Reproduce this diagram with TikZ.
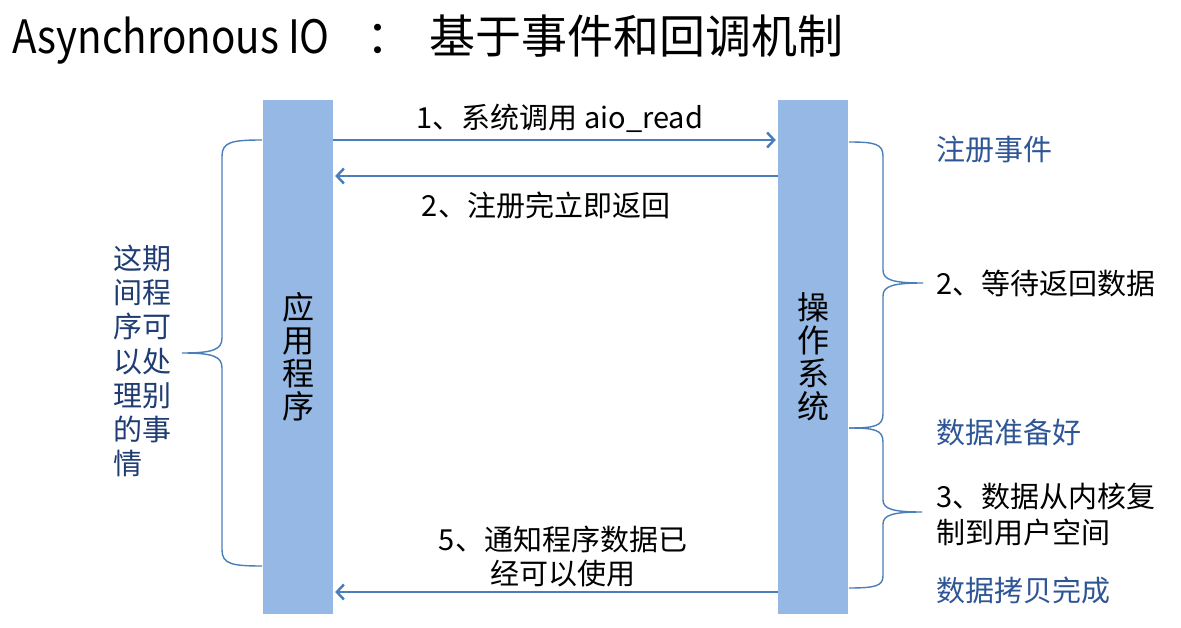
\documentclass[tikz,border=0pt]{standalone}
\usepackage{fontspec}
\usepackage{graphicx}
\setmainfont{Noto Sans CJK SC}
\usetikzlibrary{arrows.meta}
\definecolor{barblue}{HTML}{95B9E4}
\definecolor{lineblue}{HTML}{4A7EBB}
\definecolor{navy}{HTML}{1F3D74}
\definecolor{midblue}{HTML}{2E5696}
\tikzset{
  bar/.style={fill=barblue, draw=none, minimum width=70pt, minimum height=514pt, inner sep=0pt, align=center, font=\fontsize{32}{33}\selectfont},
  arr/.style={draw=lineblue, line width=2pt, -{Straight Barb[length=7pt,width=15pt,line width=2.5pt]}},
  brace/.style={draw=lineblue, line width=1.4pt},
  lbl/.style={inner sep=0pt, font=\fontsize{29}{34}\selectfont},
  bluelbl/.style={lbl, text=midblue},
}
\begin{document}
\begin{tikzpicture}[x=1pt,y=-1pt]
\useasboundingbox (0,0) rectangle (1181,628);
\node[anchor=west, inner sep=0pt, font=\fontsize{46}{50}\selectfont] (title) at (12,40) {\scalebox{0.876}[1]{Asynchronous IO}\hspace{37pt}：\hspace{17pt}基于事件和回调机制};
\node[bar] (app) at (298,357) {应\\用\\程\\序};
\node[bar] (os) at (813,357) {操\\作\\系\\统};
\coordinate (y1) at (0,140);
\coordinate (y2) at (0,176);
\coordinate (y5) at (0,592);
\draw[arr] (app.east |- y1) -- ([xshift=-2pt]os.west |- y1);
\draw[arr] (os.west |- y2) -- ([xshift=2pt]app.east |- y2);
\draw[arr] (os.west |- y5) -- ([xshift=2pt]app.east |- y5);
\node[lbl] (l1) at (560,118) {1、系统调用 aio\_read};
\node[lbl] (l2) at (546,205) {2、注册完立即返回};
\node[lbl, align=center] (l5) at (563,556) {5、通知程序数据已\\经可以使用};
% left brace
\coordinate (lbt) at (262,140);
\coordinate (lbm) at (182,353);
\coordinate (lbb) at (262,566);
\draw[brace] (lbt) .. controls (232,140) and (222,142) .. (222,156) -- (222,338) .. controls (222,350) and (212,353) .. (lbm) .. controls (212,353) and (222,356) .. (222,368) -- (222,550) .. controls (222,564) and (232,566) .. (lbb);
\node[inner sep=0pt, align=left, text=navy, font=\fontsize{29}{34.2}\selectfont] (ltxt) at (142,361) {这期\\间程\\序可\\以处\\理别\\的事\\情};
% right braces
\coordinate (rb1t) at (849,142);
\coordinate (rb1m) at (923,283);
\coordinate (rbj) at (849,428);
\coordinate (rb2m) at (922,512);
\coordinate (rb2b) at (849,588);
\draw[brace] (rb1t) .. controls (875,142) and (883,144) .. (883,156) -- (883,270) .. controls (883,280) and (893,283) .. (rb1m) .. controls (893,283) and (883,286) .. (883,296) -- (883,414) .. controls (883,426) and (875,428) .. (rbj);
\draw[brace] (rbj) .. controls (875,428) and (883,430) .. (883,442) -- (883,500) .. controls (883,509) and (893,512) .. (rb2m) .. controls (893,512) and (883,515) .. (883,524) -- (883,576) .. controls (883,586) and (875,588) .. (rb2b);
\node[bluelbl, anchor=west] (r1) at (936,150) {注册事件};
\node[lbl, anchor=west] (r2) at (936,283) {2、等待返回数据};
\node[bluelbl, anchor=west] (r3) at (936,432) {数据准备好};
\node[lbl, anchor=west, align=left, font=\fontsize{29}{36}\selectfont] (r4) at (936,515) {3、数据从内核复\\制到用户空间};
\node[bluelbl, anchor=west] (r5) at (936,590) {数据拷贝完成};
\end{tikzpicture}
\end{document}
